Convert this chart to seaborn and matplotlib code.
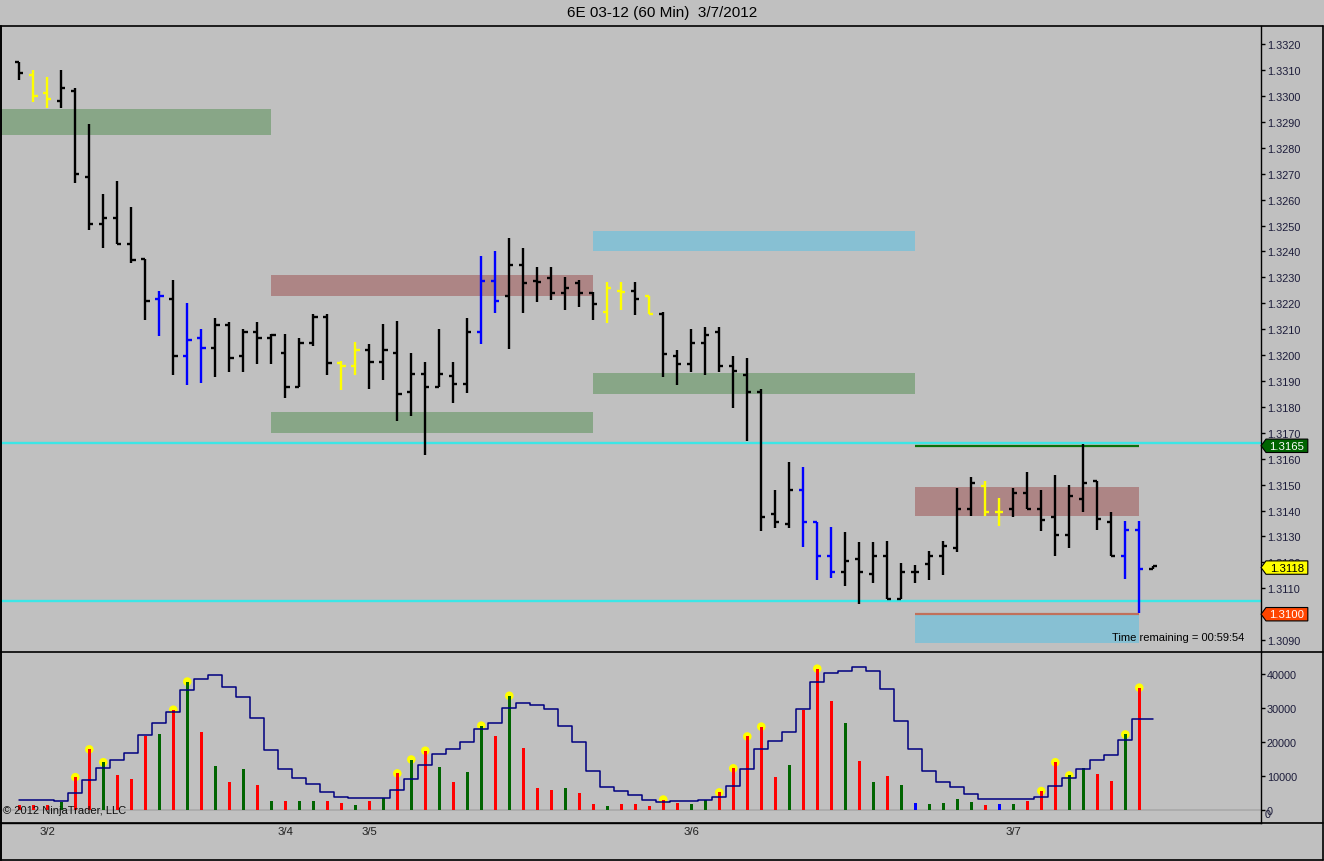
import numpy as np
import matplotlib
matplotlib.use("Agg")
import matplotlib.pyplot as plt
import seaborn as sns
from matplotlib.lines import Line2D
from matplotlib.patches import Polygon

# ---- data (60 min bars, 6E 03-12) ----
opens = [1.3313, 1.3308, 1.3301, 1.32979, 1.3302, 1.32689, 1.32506, 1.3253, 1.32428, 1.3237,
         1.32217, 1.32217, 1.31995, 1.32066, 1.32027, 1.32116, 1.31996, 1.32089, 1.32066, 1.32008,
         1.31875, 1.32048, 1.32147, 1.31968, 1.31957, 1.32019, 1.31975, 1.32008, 1.31857, 1.31926,
         1.31875, 1.31919, 1.31888, 1.32088, 1.32286, 1.32228, 1.32348, 1.32286, 1.32298, 1.3224,
         1.32279, 1.3224, 1.32166, 1.32247, 1.32247, 1.32228, 1.3216, 1.31996, 1.31967, 1.32046,
         1.3209, 1.31957, 1.31925, 1.31856, 1.31385, 1.31347, 1.31478, 1.31356, 1.31225, 1.31163,
         1.31214, 1.31156, 1.31225, 1.31058, 1.31163, 1.31194, 1.31225, 1.31255, 1.31406, 1.31496,
         1.31395, 1.31406, 1.31466, 1.31406, 1.31376, 1.31306, 1.31445, 1.31515, 1.31357, 1.31225,
         1.31326, 1.31174]
highs = [1.3313, 1.3310, 1.33074, 1.3310, 1.3303, 1.32892, 1.32622, 1.32672, 1.32572, 1.3237,
         1.32249, 1.32288, 1.3220, 1.32099, 1.32142, 1.32129, 1.32099, 1.32129, 1.3208, 1.3208,
         1.32067, 1.3216, 1.3216, 1.31979, 1.32049, 1.32041, 1.32119, 1.3213, 1.3201, 1.31972,
         1.32099, 1.31972, 1.32142, 1.32382, 1.32401, 1.32452, 1.32413, 1.32339, 1.32339, 1.32301,
         1.32289, 1.32242, 1.32281, 1.32281, 1.32281, 1.32228, 1.32167, 1.32021, 1.32099, 1.32109,
         1.32109, 1.31997, 1.3199, 1.31868, 1.3148, 1.31588, 1.31567, 1.31356, 1.31336, 1.31316,
         1.31277, 1.31277, 1.31283, 1.31196, 1.31189, 1.31245, 1.31283, 1.31486, 1.31528, 1.31515,
         1.31447, 1.31486, 1.31548, 1.31479, 1.31537, 1.31499, 1.31657, 1.31515, 1.31395, 1.31358,
         1.31358, 1.31186]
lows = [1.3306, 1.32975, 1.32955, 1.32955, 1.32666, 1.32484, 1.32414, 1.32427, 1.32357, 1.32135,
        1.32075, 1.31923, 1.31884, 1.31892, 1.31915, 1.31935, 1.31935, 1.31965, 1.31965, 1.31834,
        1.31875, 1.32036, 1.31923, 1.31864, 1.31923, 1.31871, 1.31902, 1.31744, 1.31764, 1.31613,
        1.31875, 1.31814, 1.31853, 1.32041, 1.32161, 1.32023, 1.32161, 1.32205, 1.32213, 1.32174,
        1.32186, 1.32135, 1.32125, 1.32174, 1.32154, 1.32157, 1.31914, 1.31883, 1.31934, 1.31922,
        1.31934, 1.31796, 1.3167, 1.31322, 1.31331, 1.31331, 1.3126, 1.31132, 1.3114, 1.31109,
        1.31041, 1.31122, 1.31058, 1.31058, 1.31122, 1.31132, 1.31152, 1.3124, 1.3138, 1.3138,
        1.31341, 1.31374, 1.31406, 1.31322, 1.31223, 1.31254, 1.31393, 1.31325, 1.31225, 1.31135,
        1.31003, 1.31174]
closes = [1.3309, 1.3300, 1.3299, 1.3303, 1.3270, 1.32506, 1.3253, 1.32427, 1.32368, 1.32209,
          1.32228, 1.31995, 1.32057, 1.32026, 1.32116, 1.31987, 1.32089, 1.32066, 1.32077, 1.31875,
          1.32048, 1.32147, 1.31968, 1.31957, 1.32019, 1.31975, 1.32019, 1.31849, 1.31926, 1.31875,
          1.31926, 1.31888, 1.32088, 1.32286, 1.32209, 1.32348, 1.32279, 1.32281, 1.3224, 1.32259,
          1.3224, 1.32197, 1.32258, 1.32244, 1.32216, 1.32157, 1.32006, 1.31967, 1.32046, 1.32077,
          1.31957, 1.31938, 1.31856, 1.31375, 1.31356, 1.31478, 1.31356, 1.31225, 1.31163, 1.31205,
          1.31163, 1.31225, 1.31058, 1.31163, 1.31163, 1.31225, 1.31264, 1.31406, 1.31505, 1.31395,
          1.31395, 1.31466, 1.31406, 1.31365, 1.31306, 1.31455, 1.31505, 1.31367, 1.31225, 1.31326,
          1.31176, 1.31186]
volume = [1400, 1400, 1400, 2200, 9600, 17800, 14000, 10100, 9200, 21700,
          22400, 29500, 37800, 23000, 13000, 8300, 11900, 7200, 2500, 2700,
          2700, 2500, 2500, 1900, 1300, 2500, 3400, 10700, 14800, 17400,
          12700, 8300, 11000, 24800, 21600, 33600, 18300, 6300, 5700, 6300,
          4800, 1600, 1000, 1600, 1600, 1000, 3000, 1900, 1600, 2800,
          5100, 12200, 21600, 24500, 9500, 13300, 29500, 41600, 32100, 25700,
          14500, 8300, 9800, 7200, 1900, 1600, 1900, 3300, 2200, 1300,
          1600, 1600, 2700, 5500, 14000, 10100, 12200, 10400, 8600, 22200,
          36000, 0]
vol_sma = [2744, 2744, 2744, 2450, 4800, 8820, 12350, 14700, 16760, 22050,
           25580, 28810, 35380, 38510, 39690, 36160, 33220, 27150, 17640, 12050,
           9410, 7640, 5290, 3820, 3530, 3530, 3530, 5880, 9110, 13230,
           16460, 17930, 19990, 23810, 25580, 29990, 31460, 30870, 29690, 24700,
           19990, 11470, 6760, 5590, 4410, 2940, 2350, 2650, 2650, 2940,
           3820, 7060, 12050, 17930, 20290, 22930, 29690, 37630, 40280, 40870,
           42040, 40960, 35570, 26170, 17930, 11470, 8230, 6760, 4700, 3230,
           3230, 3230, 3230, 3820, 7060, 9410, 12050, 14700, 16270, 20580,
           26850, 26850]
yellow_bars = [1, 2, 23, 24, 42, 43, 45, 69, 70]
blue_bars = [10, 12, 13, 33, 34, 56, 57, 58, 79, 80]
vol_dots = [4, 5, 6, 11, 12, 27, 28, 29, 33, 35, 46, 50, 51, 52, 53, 57, 73, 74, 75, 79, 80]

date_ticks = [2, 19, 25, 48, 71]
date_labels = ["3/2", "3/4", "3/5", "3/6", "3/7"]

# zones: price low/high, bar from/to, kind
zone_lo = [1.3285, 1.3223, 1.3170, 1.3240, 1.3185, 1.3138, 1.3089]
zone_hi = [1.3295, 1.3231, 1.3178, 1.3248, 1.3193, 1.3149, 1.3100]
zone_from = [-1.4, 18, 18, 41, 41, 64, 64]
zone_to = [18, 41, 41, 64, 64, 80, 80]
zone_kind = ["g", "r", "g", "b", "g", "r", "b"]
cyan_levels = [1.3166, 1.3105]
session_high = 1.3165
session_low = 1.3100
last_price = 1.3118

# ---- style ----
BG = "#C0C0C0"
W, H = 1324, 862
sns.set_style("white", {"axes.facecolor": BG, "figure.facecolor": BG})
plt.rcParams["font.family"] = ["Liberation Sans", "DejaVu Sans"]

fig = plt.figure(figsize=(W / 100, H / 100), dpi=100, facecolor=BG)


def fx(px):
    return px / W


def fy(py):
    return 1 - py / H


left, right = 1.0, 1260.7
ax = fig.add_axes([fx(left), fy(653.3), fx(right) - fx(left), fy(27.3) - fy(653.3)])
axv = fig.add_axes([fx(left), fy(824), fx(right) - fx(left), fy(653.3) - fy(824)])

x = np.arange(len(opens))
xlim = ((left - 19.3) / 14, (right - 19.3) / 14)

# zones
zone_colors = {"g": "#88A687", "r": "#AD8585", "b": "#87C0D3"}
for lo, hi, a, b, k in zip(zone_lo, zone_hi, zone_from, zone_to, zone_kind):
    ax.fill_between([a, b], lo, hi, color=zone_colors[k], lw=0, zorder=1)

for lvl in cyan_levels:
    ax.axhline(lvl, color="#3CE6E6", lw=1.7, zorder=1.5)
ax.hlines(session_high, 64, 80, color="#0B700B", lw=1.6, zorder=1.6)
ax.hlines(session_low, 64, 80, color="#C0705A", lw=1.6, zorder=1.6)

# OHLC bars
bar_cols = ["#000000"] * len(opens)
for i in yellow_bars:
    bar_cols[i] = "#FFFF00"
for i in blue_bars:
    bar_cols[i] = "#0000FF"
ax.vlines(x, lows, highs, colors=bar_cols, lw=1.7, zorder=3)
ax.hlines(opens, x - 0.3, x, colors=bar_cols, lw=1.7, zorder=3)
ax.hlines(closes, x, x + 0.3, colors=bar_cols, lw=1.7, zorder=3)

ax.set_xlim(*xlim)
ax.set_ylim(1.30853, 1.33269)
ax.set_xticks([])
ax.yaxis.tick_right()
pticks = np.round(np.arange(1.3090, 1.33201, 0.001), 4)
ax.set_yticks(pticks)
ax.set_yticklabels([f"{t:.4f}" for t in pticks])
ax.tick_params(axis="y", direction="out", length=3, width=1, pad=1.5,
               labelsize=7.8, labelcolor="#1c1c3a", color="black")
for s in ["left", "top", "bottom"]:
    ax.spines[s].set_visible(False)
ax.spines["right"].set_color("black")
ax.spines["right"].set_linewidth(1)

# price labels on the axis
tr = ax.get_yaxis_transform()
half = 6.7 / 25910
for price, fc, tc in [(session_high, "#006400", "white"),
                      (last_price, "#FFFF00", "black"),
                      (session_low, "#FF4500", "white")]:
    x0, xt, x1 = 1.0003, 1.0042, 1.0374
    poly = Polygon([(x0, price), (xt, price + half), (x1, price + half),
                    (x1, price - half), (xt, price - half)], closed=True,
                   transform=tr, fc=fc, ec="black", lw=0.8, clip_on=False, zorder=6)
    ax.add_patch(poly)
    ax.text(1.0208, price, f"{price:.4f}", transform=tr, ha="center", va="center",
            fontsize=8.2, color=tc, clip_on=False, zorder=7)

ax.text((1244 - left) / (right - left), 1.30912, "Time remaining = 00:59:54",
        transform=tr, ha="right", va="center", fontsize=8, color="black", zorder=7)

# volume panel
vol_cols = []
for o, c in zip(opens, closes):
    if np.isclose(o, c):
        vol_cols.append("#0000FF")
    elif c > o:
        vol_cols.append("#006400")
    else:
        vol_cols.append("#FF0000")

axv.axhline(0, color="#A8A8A8", lw=1.2, zorder=1)
axv.scatter([x[i] for i in vol_dots], [volume[i] for i in vol_dots], s=38,
            color="#FFFF00", edgecolors="none", zorder=2)
axv.bar(x, volume, width=0.22, color=vol_cols, lw=0, zorder=3)
sns.lineplot(x=x, y=vol_sma, ax=axv, color="#000080", lw=1.1,
             drawstyle="steps-mid", estimator=None, zorder=4)

axv.set_xlim(*xlim)
axv.set_ylim(-3923, 46430)
axv.yaxis.tick_right()
axv.set_yticks([0, 10000, 20000, 30000, 40000])
axv.set_yticklabels(["0", "10000", "20000", "30000", "40000"])
axv.tick_params(axis="y", direction="out", length=3, width=1, pad=1.5,
                labelsize=7.8, labelcolor="#1c1c3a", color="black")
axv.text(1.0035, -1330, "0", transform=axv.get_yaxis_transform(), ha="left",
         va="center", fontsize=7.8, color="#1c1c3a")
axv.set_xticks(date_ticks)
axv.set_xticklabels(date_labels)
axv.tick_params(axis="x", direction="in", length=4, width=1, pad=2,
                labelsize=8.2, labelcolor="#202020", color="black")
axv.set_xlabel("")
axv.set_ylabel("")
for s in ["left", "top"]:
    axv.spines[s].set_visible(False)
axv.spines["bottom"].set_color("black")
axv.spines["right"].set_color("black")
axv.spines["bottom"].set_linewidth(1)
axv.spines["right"].set_linewidth(1)

# outer frame lines
for yy in [27.3, 653.3, 824, 861]:
    fig.add_artist(Line2D([fx(0), fx(1322.7)], [fy(yy), fy(yy)], color="black", lw=1.2))
fig.add_artist(Line2D([fx(0.6), fx(0.6)], [fy(27.3), fy(861)], color="black", lw=1.4))
fig.add_artist(Line2D([fx(1322.7), fx(1322.7)], [fy(27.3), fy(861)], color="black", lw=1.2))

fig.text(0.5, fy(13), "6E 03-12 (60 Min)  3/7/2012", ha="center", va="center",
         fontsize=11, color="black")
fig.text(fx(3), fy(811), "\u00a9 2012 NinjaTrader, LLC", ha="left", va="center",
         fontsize=8, color="#101010", zorder=10)

fig.savefig("out.png", dpi=100, facecolor=BG)
